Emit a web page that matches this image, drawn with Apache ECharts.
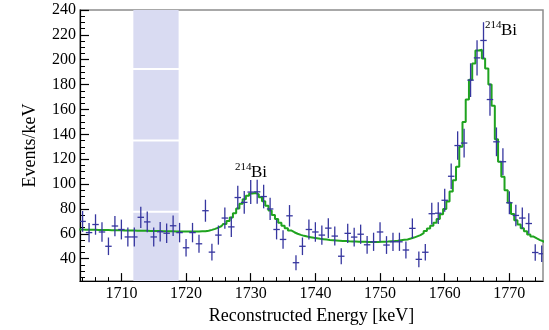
<!DOCTYPE html>
<html>
<head>
<meta charset="utf-8">
<script src="https://cdn.jsdelivr.net/npm/echarts@6/dist/echarts.min.js"></script>
<style>
  html, body { margin: 0; padding: 0; background: #fff; }
  #chart { width: 549px; height: 330px; }
</style>
</head>
<body>
<div id="chart"></div>
<script>
// Measured spectrum: counts per 1 keV bin, first bin centred at 1704 keV
const firstBinKeV = 1704;
const binWidthKeV = 1;
const counts = [
  70, 61, 67.5, 61.5, 50, 66.3, 63.5, 57.5, 57.5, 73.3,
  69.6, 57.5, 61.7, 60.5, 66.5, 61, 48.8, 61, 52, 78.6,
  45.3, 59, 72.7, 65.6, 89.2, 85.3, 93.6, 93.8, 90, 80,
  63.5, 55.5, 74.5, 36.8, 50, 63.5, 61.5, 59, 64.6, 58.2,
  42, 60.4, 57.4, 59.7, 51.2, 53.6, 61.5, 51, 53.6, 53.6,
  47, 64.4, 39.5, 45.2, 76.2, 76.6, 87, 106.3, 131, 133,
  183.6, 201.5, 215.5, 168, 134, 118, 85, 74.8, 72.7, 68.3,
  45, 44
];

// Fit model, evaluated in 0.5 keV steps starting at 1703.5 keV
const fitStartKeV = 1703.5;
const fitStepKeV = 0.5;
const fitValues = [
  63.4, 63.4, 63.3, 63.3, 63.2, 63.2, 63.1, 63.1, 63.0, 63.0,
  62.9, 62.9, 62.8, 62.8, 62.7, 62.7, 62.6, 62.6, 62.5, 62.5,
  62.4, 62.4, 62.3, 62.3, 62.2, 62.2, 62.1, 62.1, 62.0, 62.0,
  61.9, 61.9, 61.8, 61.8, 61.8, 61.8, 61.9, 61.9, 62.0, 62.0,
  62.5, 63.2, 64.0, 65.0, 66.3, 68.0, 70.3, 73.2, 76.6, 80.4,
  84.3, 87.8, 90.7, 92.5, 92.9, 91.8, 89.5, 86.3, 82.6, 78.8,
  75.2, 71.9, 69.0, 66.5, 64.4, 62.7, 61.3, 60.1, 59.2, 58.4,
  57.8, 57.3, 56.8, 56.4, 56.0, 55.7, 55.4, 55.1, 54.9, 54.7,
  54.5, 54.3, 54.2, 54.0, 53.9, 53.8, 53.7, 53.6, 53.6, 53.5,
  53.5, 53.5, 53.5, 53.6, 53.7, 53.8, 54.0, 54.2, 54.5, 54.9,
  55.2, 55.5, 56.2, 57.0, 58.0, 59.0, 60.5, 62.3, 64.3, 66.5,
  69.0, 72.0, 75.8, 80.0, 86.0, 94.0, 103.0, 114.0, 130.0, 150.0,
  168.0, 184.0, 197.0, 207.5, 208.0, 201.0, 193.0, 180.0, 163.0, 136.0,
  118.0, 106.0, 95.0, 85.0, 76.0, 71.0, 67.5, 64.5, 62.0, 59.5,
  57.8, 56.3, 55.0, 54.0, 53.2
];

// Signal-region window (keV) shaded on the plot
const windowKeV = [1711.85, 1718.85];

// Axis ticks
const xMajorTicks = [1710, 1720, 1730, 1740, 1750, 1760, 1770];
const yMajorTicks = [40, 60, 80, 100, 120, 140, 160, 180, 200, 220, 240];

const X_MIN = 1703.6, X_MAX = 1775.2;
const Y_MIN = 22, Y_MAX = 240;

const xMinorTicks = [];
for (let e = 1704; e <= 1774; e += 2) if (!xMajorTicks.includes(e)) xMinorTicks.push(e);
const yMinorTicks = [];
for (let v = 25; v < 240; v += 5) if (!yMajorTicks.includes(v)) yMinorTicks.push(v);

const pointData = counts.map((c, i) => [firstBinKeV + i * binWidthKeV, c, Math.sqrt(c)]);
const fitData = fitValues.map((v, i) => [fitStartKeV + i * fitStepKeV, v]);

const SERIF = '"Liberation Serif", "Times New Roman", serif';
const POINT_COLOR = '#36369f';
const FIT_COLOR = '#1fa31f';
const BAND_COLOR = '#d9dbf2';

// band split into slices separated by thin white seams
const bandSeams = [[77.0, 78.5], [134.3, 135.8], [191.8, 193.3]];
const bandSlices = [];
let lo = Y_MIN;
bandSeams.forEach(([a, b]) => { bandSlices.push([lo, a]); lo = b; });
bandSlices.push([lo, Y_MAX]);

const chart = echarts.init(document.getElementById('chart'), null, { renderer: 'canvas' });

const tickLabelStyle = { fontFamily: SERIF, fontSize: 16, color: '#000', formatter: v => String(v) };

chart.setOption({
  animation: false,
  backgroundColor: '#fff',
  grid: {
    left: 80, right: 6, top: 10, bottom: 42,
    show: true, borderColor: '#8c8c8c', borderWidth: 1.5, backgroundColor: 'transparent'
  },
  xAxis: [
    {
      type: 'value', min: X_MIN, max: X_MAX,
      name: 'Reconstructed Energy [keV]', nameLocation: 'middle', nameGap: 24,
      nameTextStyle: { fontFamily: SERIF, fontSize: 18, color: '#000' },
      axisLine: { show: true, lineStyle: { color: '#000', width: 1.2 } },
      axisTick: { show: true, inside: true, length: 8, customValues: xMajorTicks, lineStyle: { color: '#000', width: 1.2 } },
      axisLabel: Object.assign({ customValues: xMajorTicks, margin: 5 }, tickLabelStyle),
      splitLine: { show: false }
    },
    {
      type: 'value', min: X_MIN, max: X_MAX, position: 'bottom',
      axisLine: { show: false },
      axisTick: { show: true, inside: true, length: 4, customValues: xMinorTicks, lineStyle: { color: '#000', width: 1 } },
      axisLabel: { show: false },
      splitLine: { show: false }
    }
  ],
  yAxis: [
    {
      type: 'value', min: Y_MIN, max: Y_MAX,
      name: 'Events/keV', nameLocation: 'middle', nameGap: 41,
      nameTextStyle: { fontFamily: SERIF, fontSize: 18, color: '#000' },
      axisLine: { show: true, lineStyle: { color: '#000', width: 1.2 } },
      axisTick: { show: true, inside: true, length: 9, customValues: yMajorTicks, lineStyle: { color: '#000', width: 1.2 } },
      axisLabel: Object.assign({ customValues: yMajorTicks, margin: 4 }, tickLabelStyle),
      splitLine: { show: false }
    },
    {
      type: 'value', min: Y_MIN, max: Y_MAX, position: 'left',
      axisLine: { show: false },
      axisTick: { show: true, inside: true, length: 5, customValues: yMinorTicks, lineStyle: { color: '#000', width: 1 } },
      axisLabel: { show: false },
      splitLine: { show: false }
    }
  ],
  series: [
    {
      name: 'window', type: 'line', data: [], silent: true, z: 1,
      markArea: {
        silent: true,
        itemStyle: { color: BAND_COLOR },
        data: bandSlices.map(([a, b]) => [
          { xAxis: windowKeV[0], yAxis: a },
          { xAxis: windowKeV[1], yAxis: b }
        ])
      }
    },
    {
      name: 'fit', type: 'line', data: fitData, step: 'middle', z: 3,
      showSymbol: false, clip: true,
      lineStyle: { color: FIT_COLOR, width: 2 }
    },
    {
      name: 'data', type: 'custom', data: pointData, z: 4, clip: true,
      encode: { x: 0, y: 1 },
      renderItem: function (params, api) {
        const e = api.value(0), v = api.value(1), err = api.value(2);
        const c = api.coord([e, v]);
        const top = api.coord([e, v + err]);
        const bot = api.coord([e, v - err]);
        const l = api.coord([e - binWidthKeV / 2, v]);
        const r = api.coord([e + binWidthKeV / 2, v]);
        const st = { stroke: POINT_COLOR, lineWidth: 1.3 };
        return {
          type: 'group',
          children: [
            { type: 'line', shape: { x1: c[0], y1: top[1], x2: c[0], y2: bot[1] }, style: st },
            { type: 'line', shape: { x1: l[0], y1: c[1], x2: r[0], y2: c[1] }, style: st }
          ]
        };
      }
    }
  ],
  graphic: [
    { type: 'text', x: 235, y: 167.5, style: { text: '214', font: '11px ' + SERIF, fill: '#000', verticalAlign: 'middle' } },
    { type: 'text', x: 251, y: 172.5, style: { text: 'Bi', font: '17px ' + SERIF, fill: '#000', verticalAlign: 'middle' } },
    { type: 'text', x: 485, y: 25.5, style: { text: '214', font: '11px ' + SERIF, fill: '#000', verticalAlign: 'middle' } },
    { type: 'text', x: 501, y: 30.5, style: { text: 'Bi', font: '17px ' + SERIF, fill: '#000', verticalAlign: 'middle' } }
  ]
});
</script>
</body>
</html>
